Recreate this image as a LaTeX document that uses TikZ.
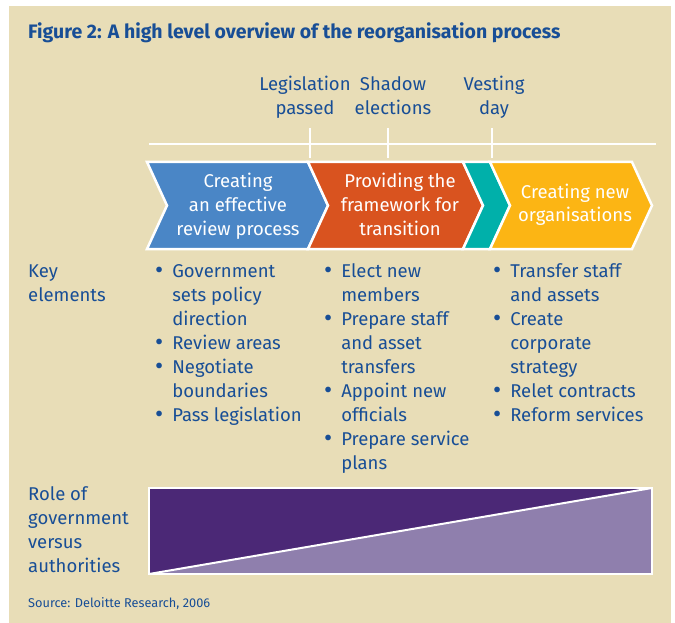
\documentclass[tikz,border=0pt]{standalone}
\usepackage{fontspec}
\setmainfont{Fira Sans}
\usetikzlibrary{positioning}

\definecolor{panel}{RGB}{232,221,183}
\definecolor{inkblue}{RGB}{24,78,150}
\definecolor{stageblue}{RGB}{74,134,198}
\definecolor{stageorange}{RGB}{217,83,31}
\definecolor{stageteal}{RGB}{0,176,170}
\definecolor{stageyellow}{RGB}{252,181,20}
\definecolor{govpurple}{RGB}{75,40,118}
\definecolor{authpurple}{RGB}{143,127,173}

\newcommand{\bodyfont}{\fontsize{18.5}{24}\selectfont}
\newcommand{\itemdot}{\raisebox{-1pt}{\fontsize{25}{24}\selectfont\textbullet}}
% one chevron of the process bar: colour, left x, right x
\newcommand{\stagebar}[3]{%
  \filldraw[fill=#1, stageline] (#2,162) -- (#3,162) -- ++(20,43.5) -- (#3,249)
    -- (#2,249) -- ++(20,-43.5) -- cycle;}

% multi-line nodes sit on the baseline of their last line
\tikzset{
  stageline/.style={draw=white, line width=2.5pt, line join=miter},
  stagetext/.style={text=white, font=\bodyfont, align=center, anchor=base, inner sep=0pt},
  milestone/.style={text=inkblue, font=\bodyfont, align=center, anchor=base, inner sep=0pt},
  rowhead/.style={text=inkblue, font=\bodyfont, align=left, anchor=base west, inner sep=0pt},
  keylist/.style={text=inkblue, font=\bodyfont, anchor=base west, inner sep=0pt},
  rule/.style={white, line width=2pt},
}

\begin{document}
\begin{tikzpicture}[x=1pt, y=-1pt]
  \useasboundingbox (0,0) rectangle (675,623);
  \fill[white] (0,0) rectangle (675,623);
  \fill[panel] (9,6) rectangle (671,623);

  \node[anchor=base west, inner sep=0pt, text=inkblue,
        font=\fontsize{19.5}{22}\selectfont\bfseries] (title) at (28,39)
    {Figure 2: A high level overview of the reorganisation process};

  % timeline with the three milestones
  \node[milestone] (legis) at (305,115) {Legislation\\passed};
  \node[milestone] (shadow) at (393,115) {Shadow\\elections};
  \node[milestone] (vesting) at (494,115) {Vesting\\day};
  \draw[rule] (149,144) -- (656,144);
  \foreach \x in {310,388,492}
    \draw[rule] (\x,128) -- (\x,158);

  % the four stages
  \stagebar{stageblue}{147}{308}
  \stagebar{stageorange}{308}{463}
  \stagebar{stageteal}{463}{490}
  \stagebar{stageyellow}{490}{632}
  \node[stagetext] (review) at (238,235) {Creating\\an effective\\review process};
  \node[stagetext] (framework) at (400,235) {Providing the\\framework for\\transition};
  \node[stagetext] (neworgs) at (575,222) {Creating new\\organisations};

  % key elements of each stage
  \node[rowhead] (keyhead) at (28,301) {Key\\elements};
  \node[keylist] (keyreview) at (155,277) {%
    \begin{tabular}[t]{@{}l@{\hspace{9pt}}l@{}}
      \itemdot & Government\\ & sets policy\\ & direction\\
      \itemdot & Review areas\\
      \itemdot & Negotiate\\ & boundaries\\
      \itemdot & Pass legislation
    \end{tabular}};
  \node[keylist] (keyframework) at (324,277) {%
    \begin{tabular}[t]{@{}l@{\hspace{9pt}}l@{}}
      \itemdot & Elect new\\ & members\\
      \itemdot & Prepare staff\\ & and asset\\ & transfers\\
      \itemdot & Appoint new\\ & officials\\
      \itemdot & Prepare service\\ & plans
    \end{tabular}};
  \node[keylist] (keyneworgs) at (493,277) {%
    \begin{tabular}[t]{@{}l@{\hspace{9pt}}l@{}}
      \itemdot & Transfer staff\\ & and assets\\
      \itemdot & Create\\ & corporate\\ & strategy\\
      \itemdot & Relet contracts\\
      \itemdot & Reform services
    \end{tabular}};

  % government versus authorities
  \node[rowhead] (rolehead) at (28,572) {Role of\\government\\versus\\authorities};
  \fill[govpurple] (149,488) rectangle (652,574);
  \fill[authpurple] (149,574) -- (652,488) -- (652,574) -- cycle;
  \draw[rule] (149,574) -- (652,488);
  \draw[white, line width=2.5pt] (149,488) rectangle (652,574);

  \node[anchor=base west, inner sep=0pt, text=inkblue,
        font=\fontsize{12.75}{15}\selectfont] (source) at (28,607)
    {Source: Deloitte Research, 2006};
\end{tikzpicture}
\end{document}
